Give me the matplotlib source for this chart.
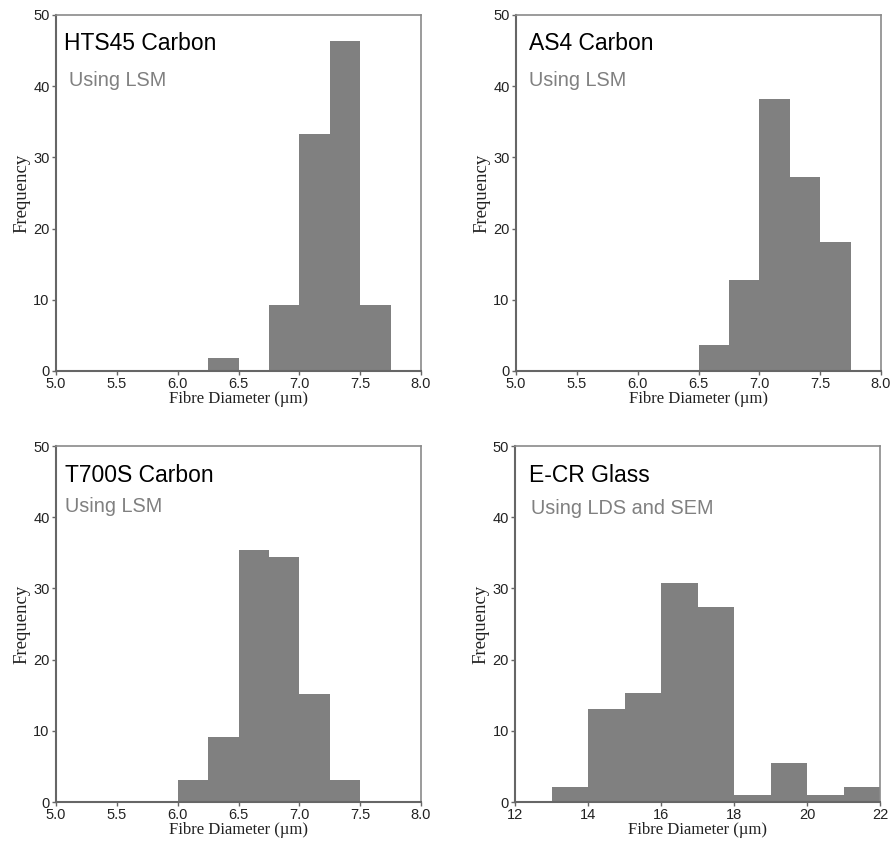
import matplotlib
matplotlib.use("Agg")
import matplotlib.pyplot as plt
import numpy as np

# Data (percentage frequency per bin)
hts45_edges = [6.25, 6.5, 6.75, 7.0, 7.25, 7.5, 7.75]
hts45_freq = [1.85, 0.0, 9.26, 33.33, 46.30, 9.26]

as4_edges = [6.5, 6.75, 7.0, 7.25, 7.5, 7.75]
as4_freq = [3.64, 12.73, 38.18, 27.27, 18.18]

t700_edges = [6.0, 6.25, 6.5, 6.75, 7.0, 7.25, 7.5]
t700_freq = [3.03, 9.09, 35.35, 34.34, 15.15, 3.03]

ecr_edges = [13, 14, 15, 16, 17, 18, 19, 20, 21, 22]
ecr_freq = [2.15, 13.1, 15.35, 30.7, 27.4, 1.05, 5.43, 1.05, 2.15]

titles = ["HTS45 Carbon", "AS4 Carbon", "T700S Carbon", "E-CR Glass"]
subtitles = ["Using LSM", "Using LSM", "Using LSM", "Using LDS and SEM"]
carbon_ticks = [5.0, 5.5, 6.0, 6.5, 7.0, 7.5, 8.0]
glass_ticks = [12, 14, 16, 18, 20, 22]
y_ticks = [0, 10, 20, 30, 40, 50]

W, H = 893, 841
fig = plt.figure(figsize=(W / 100, H / 100), dpi=100)

# axes rectangles in pixels: left, top, right, bottom
rects = [(56, 15, 421, 371), (516, 15, 881, 371),
         (56, 446, 421, 802), (515, 446, 880, 802)]
datasets = [(hts45_edges, hts45_freq), (as4_edges, as4_freq),
            (t700_edges, t700_freq), (ecr_edges, ecr_freq)]
title_off = [(8, 29, 13, 65), (13, 29, 13, 65), (9, 29, 9, 61), (14, 29, 16, 62)]

serif = "Liberation Serif"
sans = "Liberation Sans"

for i, ((l, t, r, b), (edges, freq)) in enumerate(zip(rects, datasets)):
    ax = fig.add_axes([l / W, 1 - b / H, (r - l) / W, (b - t) / H])
    edges = np.array(edges, dtype=float)
    widths = np.diff(edges)
    ax.bar(edges[:-1], freq, width=widths, align="edge", color="#808080",
           edgecolor="none", linewidth=0)
    if i == 3:
        ax.set_xlim(12, 22)
        ax.set_xticks(glass_ticks)
        ax.set_xticklabels([str(v) for v in glass_ticks])
    else:
        ax.set_xlim(5.0, 8.0)
        ax.set_xticks(carbon_ticks)
        ax.set_xticklabels([f"{v:.1f}" for v in carbon_ticks])
    ax.set_ylim(0, 50)
    ax.set_yticks(y_ticks)
    for s in ["top", "right"]:
        ax.spines[s].set_color("#8a8a8a")
        ax.spines[s].set_linewidth(1.2)
    for s in ["left", "bottom"]:
        ax.spines[s].set_color("#666666")
        ax.spines[s].set_linewidth(1.5)
    ax.tick_params(axis="both", direction="out", length=3, width=1,
                   color="#666666", labelcolor="#222222", labelsize=10.5,
                   pad=1.5)
    for lab in ax.get_xticklabels() + ax.get_yticklabels():
        lab.set_fontfamily(sans)
    ax.set_xlabel("Fibre Diameter (µm)", fontfamily=serif, fontsize=12,
                  color="#222222", labelpad=0)
    ax.set_ylabel("Frequency", fontfamily=serif, fontsize=13.5,
                  color="#222222", labelpad=2)
    tx, ty, sx, sy = title_off[i]
    fig.text((l + tx) / W, 1 - (t + ty) / H, titles[i], fontfamily=sans,
             fontsize=16.5, color="#000000", va="center", ha="left")
    fig.text((l + sx) / W, 1 - (t + sy) / H, subtitles[i], fontfamily=sans,
             fontsize=14.3, color="#808080", va="center", ha="left")

fig.savefig("out.png", dpi=100)
